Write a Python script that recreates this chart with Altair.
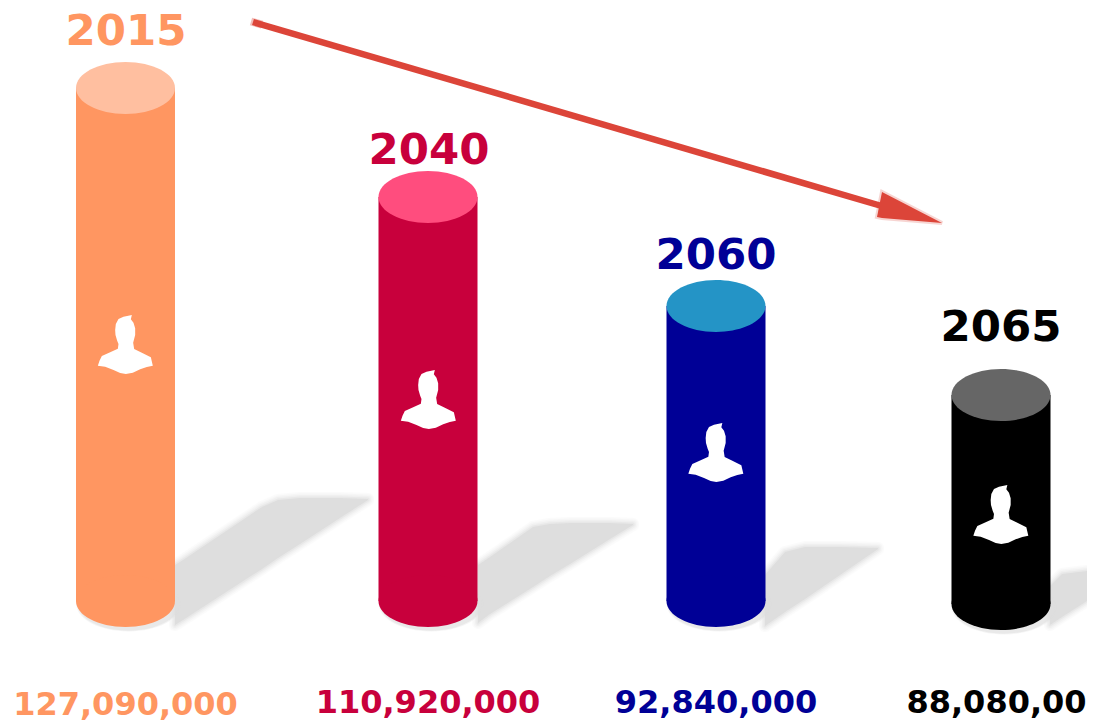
import altair as alt
import pandas as pd

years = ["2015", "2040", "2060", "2065"]
populations = ["127,090,000", "110,920,000", "92,840,000", "88,080,00"]
body_colors = ["#ff9661", "#c8003c", "#000096", "#000000"]
top_colors = ["#ffbfa0", "#ff4d7e", "#2494c6", "#666666"]
centers = [125.5, 428, 716, 1001]
left_edges = [76, 378.5, 666.5, 951.5]
right_edges = [175, 477.5, 765.5, 1050.5]
top_levels = [88, 197, 306, 395]
base_levels = [601, 601, 601, 604]
year_label_x = [126, 429, 716, 1001]
year_label_y = [45, 164, 269, 341]
value_label_x = [125.5, 428, 716, 996.5]
value_label_y = [715, 713, 713, 713]
icon_y = [345, 400, 453, 515]
icon_x = [125.5, 428.5, 716, 1001]

shadow_x = [
    [175, 183, 262, 278, 300, 340, 368],
    [478, 490, 533, 550, 570, 610, 633],
    [765, 785, 805, 840, 878],
    [1050, 1062, 1087, 1095],
]
shadow_top = [
    [565, 560, 507, 500, 498, 498, 499],
    [565, 557, 527, 524, 523, 523, 524],
    [575, 552, 547, 547, 548],
    [586, 574, 571, 570],
]
shadow_bottom = [
    [625, 620, 569, 558, 544, 518, 500],
    [623, 614, 587, 576, 564, 539, 525],
    [626, 612, 599, 575, 549],
    [625, 617, 601, 598],
]

arrow_x = [253, 885]
arrow_y = [22, 207]
tail_x = [251, 262]
tail_y = [21.5, 24.7]
head_x = [877, 882, 942]
head_top = [217, 192, 223]
head_bottom = [217, 218, 223]

ARROW = "#dc4539"
SHADOW = "#dedede"
ELLIPSE = "M-1,0 A1,0.525 0 1 0 1,0 A1,0.525 0 1 0 -1,0 Z"
ICON_ZOOM = [(215, 45), (190, 50), (175, 57), (167, 72), (165, 90), (166, 105), (171, 122),
             (175, 132), (173, 146), (150, 157), (125, 168), (118, 182), (113, 197),
             (135, 200), (160, 210), (180, 219), (197, 222), (218, 218), (240, 208), (260, 201), (278, 197),
             (272, 172), (245, 158), (222, 147), (219, 128), (225, 105), (225, 85), (220, 68),
             (212, 58)]
ICON = "M" + " L".join(f"{(a-196)/91.5:.3f},{(b-135)/91.5:.3f}" for a, b in ICON_ZOOM) + " Z"

XS = alt.Scale(domain=[8, 1087], nice=False, zero=False)
YS = alt.Scale(domain=[721, 8], nice=False, zero=False)


def X(f="x"):
    return alt.X(f"{f}:Q", scale=XS, axis=None)


def Y(f="y"):
    return alt.Y(f"{f}:Q", scale=YS, axis=None)


bars = pd.DataFrame({
    "year": years, "pop": populations, "body": body_colors, "top": top_colors,
    "c": centers, "l": left_edges, "r": right_edges, "t": top_levels, "b": base_levels,
    "yx": year_label_x, "yy": year_label_y, "vx": value_label_x, "vy": value_label_y,
    "ix": icon_x, "iy": icon_y,
})
bars["bx"] = bars["c"] + 3
bars["by"] = bars["b"] + 3

shadow_rows = []
for i, xs in enumerate(shadow_x):
    for x, a, b in zip(xs, shadow_top[i], shadow_bottom[i]):
        shadow_rows.append({"s": i, "x": x, "y": a, "y2": b})
shadow_df = pd.DataFrame(shadow_rows)

arrow_df = pd.DataFrame({"x": arrow_x, "y": arrow_y})
tail_df = pd.DataFrame({"x": tail_x, "y": tail_y})
head_df = pd.DataFrame({"x": head_x, "y": head_top, "y2": head_bottom})

layers = []

# soft shadows
for width, op in [(12, 0.10), (9, 0.14), (6, 0.22), (3, 0.4)]:
    layers.append(
        alt.Chart(shadow_df).mark_area(color=SHADOW, stroke=SHADOW, strokeWidth=width,
                                       opacity=op, strokeJoin="round").encode(
            x=X(), y=Y(), y2="y2:Q", detail="s:N")
    )
layers.append(
    alt.Chart(shadow_df).mark_area(color=SHADOW, opacity=1).encode(
        x=X(), y=Y(), y2="y2:Q", detail="s:N")
)
# soft shadow beneath each base
for size, op in [(10900, 0.3), (10300, 0.5)]:
    layers.append(
        alt.Chart(bars).mark_point(shape=ELLIPSE, filled=True, size=size, opacity=op,
                                   color=SHADOW, strokeWidth=0).encode(
            x=X("bx"), y=Y("by"))
    )

color = alt.Color("body:N", scale=None)
# bodies
layers.append(
    alt.Chart(bars).mark_rect().encode(
        x=X("l"), x2="r:Q", y=Y("t"), y2="b:Q", color=color)
)
layers.append(
    alt.Chart(bars).mark_point(shape=ELLIPSE, filled=True, size=9801, opacity=1, strokeWidth=0).encode(
        x=X("c"), y=Y("b"), color=color)
)
layers.append(
    alt.Chart(bars).mark_point(shape=ELLIPSE, filled=True, size=9801, opacity=1, strokeWidth=0).encode(
        x=X("c"), y=Y("t"), color=alt.Color("top:N", scale=None))
)
# person icons
layers.append(
    alt.Chart(bars).mark_point(shape=ICON, filled=True, size=3721, opacity=1, color="#ffffff", strokeWidth=0).encode(
        x=X("ix"), y=Y("iy"))
)
# labels
layers.append(
    alt.Chart(bars).mark_text(font="DejaVu Sans", fontWeight="bold", fontSize=43.5, align="center",
                              baseline="alphabetic").encode(
        x=X("yx"), y=Y("yy"), text="year:N", color=color)
)
layers.append(
    alt.Chart(bars).mark_text(font="DejaVu Sans", fontWeight="bold", fontSize=32, align="center",
                              baseline="alphabetic").encode(
        x=X("vx"), y=Y("vy"), text="pop:N", color=color)
)
# arrow
layers.append(
    alt.Chart(tail_df).mark_line(color=ARROW, strokeWidth=8, strokeCap="butt", opacity=0.35).encode(
        x=X(), y=Y())
)
layers.append(
    alt.Chart(arrow_df).mark_line(color=ARROW, strokeWidth=6.5, strokeCap="butt").encode(
        x=X(), y=Y())
)
layers.append(
    alt.Chart(head_df).mark_area(color=ARROW, stroke=ARROW, strokeWidth=4, opacity=0.22).encode(
        x=X(), y=Y(), y2="y2:Q")
)
layers.append(
    alt.Chart(head_df).mark_area(color=ARROW, opacity=1).encode(
        x=X(), y=Y(), y2="y2:Q")
)

chart = alt.layer(*layers).properties(
    width=1079, height=713, padding=0, autosize=alt.AutoSizeParams(type="none"),
    background="#ffffff",
).configure_view(stroke=None)

chart.save("out.html", embed_options={"renderer": "svg", "actions": False})
